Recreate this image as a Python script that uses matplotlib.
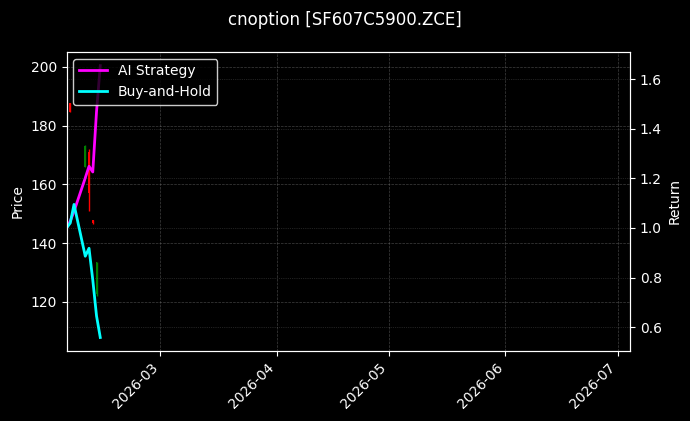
import datetime as dt
import matplotlib
matplotlib.use("Agg")
import matplotlib.pyplot as plt
import matplotlib.dates as mdates

# ---- data ----
dates = ["2026-02-04", "2026-02-05", "2026-02-06", "2026-02-09",
         "2026-02-10", "2026-02-11", "2026-02-12", "2026-02-13"]
ai_return = [1.00, 1.028, 1.067, 1.202, 1.249, 1.226, 1.47, 1.655]
bh_return = [1.00, 1.02, 1.095, 0.886, 0.918, 0.79, 0.645, 0.558]

candle_dates = ["2026-02-05", "2026-02-09", "2026-02-10", "2026-02-11", "2026-02-12"]
opens = [187.5, 166.0, 171.0, 148.0, 122.5]
highs = [187.5, 173.5, 172.0, 148.0, 133.7]
lows = [184.5, 166.0, 151.0, 146.5, 121.8]
closes = [184.5, 173.0, 157.0, 146.7, 133.5]

x_range = ("2026-02-04", "2026-07-04 05:00")


def to_dt(s):
    return dt.datetime.fromisoformat(s)


plt.style.use("dark_background")
fig = plt.figure(figsize=(6.9, 4.21), dpi=100)
ax = fig.add_axes([0.0964, 0.166, 0.8166, 0.711])
ax2 = ax.twinx()

# candlesticks on price axis
cx = [to_dt(d) for d in candle_dates]
for d, o, h, l, c in zip(cx, opens, highs, lows, closes):
    col = "green" if c >= o else "red"
    ax.vlines(d, l, h, color=col, linewidth=1)
    ax.bar(d, abs(c - o), bottom=min(o, c), width=0.5, color=col, edgecolor=col, linewidth=0)

# returns on right axis
x = [to_dt(d) for d in dates]
ax2.plot(x, ai_return, color="#ff00ff", linewidth=2, label="AI Strategy")
ax2.plot(x, bh_return, color="#00ffff", linewidth=2, label="Buy-and-Hold")

ax.set_xlim(to_dt(x_range[0]), to_dt(x_range[1]))
ax.set_ylim(103.2, 205.1)
ax2.set_ylim(0.503, 1.711)

ax.xaxis.set_major_locator(mdates.MonthLocator())
ax.xaxis.set_major_formatter(mdates.DateFormatter("%Y-%m"))
plt.setp(ax.get_xticklabels(), rotation=45, ha="right")

ax.set_ylabel("Price")
ax2.set_ylabel("Return")

ax.grid(True, linestyle="--", linewidth=0.5, color="gray", alpha=0.5)
ax2.grid(True, linestyle=":", linewidth=0.5, color="gray", alpha=0.5)

ax2.legend(loc="upper left", facecolor="black", edgecolor="white")
fig.suptitle("cnoption [SF607C5900.ZCE]", fontsize=12, y=0.975)

fig.savefig("out.png", dpi=100, facecolor="black")
